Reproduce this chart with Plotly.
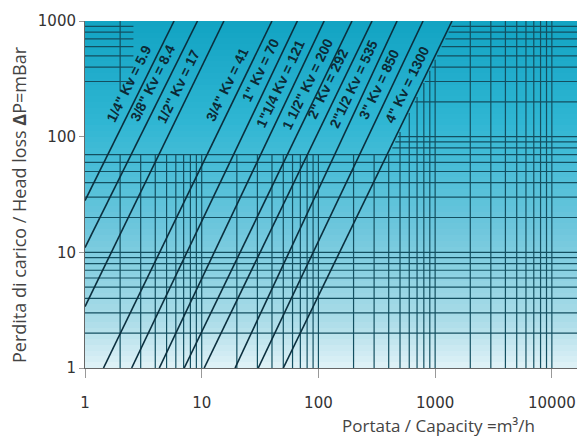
import numpy as np
import plotly.graph_objects as go

# ---------------- data ----------------
pipe_sizes = ['1/4"', '3/8"', '1/2"', '3/4"', '1"', '1"1/4', '1 1/2"', '2"', '2"1/2', '3"', '4"']
kv_values = [5.9, 8.4, 17, 41, 70, 121, 200, 292, 535, 850, 1300]
# line start points (lower-left) and end points (top edge), flow m3/h vs loss mbar
q_start = [1, 1, 1, 1.44, 2.51, 4.33, 7.08, 10.5, 19.3, 30.5, 50.0]
dp_start = [28, 11, 3.4, 1, 1, 1, 1, 1, 1, 1, 1]
q_end = [5.8, 9.2, 15.5, 40, 66, 112, 194, 288, 472, 788, 1396]
dp_end = [1000, 1000, 1000, 1000, 1000, 1000, 1000, 1000, 1000, 1000, 1000]
# loss value at which each label is centred
label_dp = [290, 290, 275, 285, 380, 285, 285, 285, 285, 285, 285]

x_ticks = [1, 10, 100, 1000, 10000]
x_ticktext = ['1', '10', '100', '1000', '10000']
y_ticks = [1, 10, 100, 1000]
y_ticktext = ['1', '10', '100', '1000']

X_MAX_LOG = 4.224
Y_MAX_LOG = 3.0

# ---------------- geometry (page has an 8px body margin) ----------------
OFF = 8
WIN_W, WIN_H = 585, 437
PL, PR, PT, PB = 85, 578, 21, 368          # plot area in window pixels
W, H = WIN_W - OFF, WIN_H - OFF
ML, MT = PL - OFF, PT - OFF
MR, MB = W - (PR - OFF), H - (PB - OFF)
pw = PR - PL
ph = PB - PT
px_per_dec_x = pw / X_MAX_LOG
px_per_dec_y = ph / Y_MAX_LOG


def paper_x(px):
    return (px - PL) / pw


def paper_y(py):
    return (PB - py) / ph


def x_on_line(i, dp):
    lx1, ly1 = np.log10(q_start[i]), np.log10(dp_start[i])
    lx2, ly2 = np.log10(q_end[i]), np.log10(dp_end[i])
    return 10 ** (lx1 + (np.log10(dp) - ly1) * (lx2 - lx1) / (ly2 - ly1))


def y_on_line(i, q):
    lx1, ly1 = np.log10(q_start[i]), np.log10(dp_start[i])
    lx2, ly2 = np.log10(q_end[i]), np.log10(dp_end[i])
    return 10 ** (ly1 + (np.log10(q) - lx1) * (ly2 - ly1) / (lx2 - lx1))


fig = go.Figure()

# ---------------- gradient background ----------------
y_edges = np.logspace(0, Y_MAX_LOG, 61)
frac = (np.log10(y_edges[:-1]) + np.log10(y_edges[1:])) / 2 / Y_MAX_LOG
fig.add_trace(go.Heatmap(
    x=[1, 10 ** X_MAX_LOG], y=y_edges, z=[[f] for f in frac],
    zmin=0, zmax=1, showscale=False, hoverinfo='skip',
    colorscale=[[0, '#e0f2f7'], [0.14, '#aadce8'], [0.41, '#6cc6dc'],
                [0.71, '#2fb6d3'], [1.0, '#12a3c3']],
))

# ---------------- grid lines (cleared band in upper area) ----------------
grid_vals_x = [m * 10 ** d for d in range(5) for m in range(1, 10) if 1 < m * 10 ** d < 10 ** X_MAX_LOG]
grid_vals_y = [m * 10 ** d for d in range(3) for m in range(1, 10) if 1 < m * 10 ** d < 1000]
BAND_Y = 70
CORNER_X, CORNER_Y = 2.6, 250
last = len(kv_values) - 1
gx, gy = [], []
for v in grid_vals_y:
    if v <= BAND_Y:
        segs = [(1, 10 ** X_MAX_LOG)]
    else:
        segs = [(x_on_line(last, v) * 1.04, 10 ** X_MAX_LOG)]
        if v >= CORNER_Y:
            segs.append((1, CORNER_X))
    for a, b in segs:
        gx += [a, b, None]
        gy += [v, v, None]
for u in grid_vals_x:
    top = max(BAND_Y, min(1000, y_on_line(last, u / 1.04)))
    gx += [u, u, None]
    gy += [1, top, None]
    if u <= CORNER_X:
        gx += [u, u, None]
        gy += [CORNER_Y, 1000, None]
fig.add_trace(go.Scatter(x=gx, y=gy, mode='lines', hoverinfo='skip',
                         line=dict(color='#134f60', width=1.2), showlegend=False))

# ---------------- Kv lines ----------------
for i in range(len(kv_values)):
    fig.add_trace(go.Scatter(x=[q_start[i], q_end[i]], y=[dp_start[i], dp_end[i]],
                             mode='lines', hoverinfo='skip', showlegend=False,
                             line=dict(color='#0b2f3e', width=1.6)))

# ---------------- line labels ----------------
for i in range(len(kv_values)):
    dpl = label_dp[i]
    ql = x_on_line(i, dpl)
    slope_px = ((np.log10(dp_end[i]) - np.log10(dp_start[i])) * px_per_dec_y) / \
               ((np.log10(q_end[i]) - np.log10(q_start[i])) * px_per_dec_x)
    ang = -np.degrees(np.arctan(slope_px))
    fig.add_annotation(x=np.log10(ql), y=np.log10(dpl), xref='x', yref='y',
                       text=f'<b>{pipe_sizes[i]} Kv = {kv_values[i]:g}</b>',
                       showarrow=False, textangle=ang, xshift=-14,
                       font=dict(family='Liberation Sans Narrow, Liberation Sans', size=14,
                                 color='#0c2a36'),
                       xanchor='center', yanchor='middle')

# ---------------- axis titles ----------------
fig.add_annotation(x=paper_x(438), y=paper_y(425), xref='paper', yref='paper',
                   text='Portata / Capacity =m³/h', showarrow=False, borderpad=0,
                   font=dict(family='Open Sans', size=17, color='#444444'),
                   xanchor='center', yanchor='middle')
fig.add_annotation(x=paper_x(19), y=paper_y(205), xref='paper', yref='paper',
                   text='Perdita di carico / Head loss <b>Δ</b>P=mBar', showarrow=False,
                   textangle=-90, borderpad=0,
                   font=dict(family='Open Sans', size=18, color='#444444'),
                   xanchor='center', yanchor='middle')

# right border
fig.add_shape(type='line', xref='paper', yref='paper', x0=1, x1=1, y0=0, y1=1,
              line=dict(color='#134f60', width=1))

fig.update_layout(
    width=W, height=H, margin=dict(l=ML, r=MR, t=MT, b=MB, autoexpand=False),
    paper_bgcolor='white', plot_bgcolor='white', showlegend=False,
    xaxis=dict(type='log', range=[0, X_MAX_LOG], showgrid=False, zeroline=False,
               automargin=False,
               tickvals=x_ticks, ticktext=x_ticktext, ticks='outside', ticklen=9,
               tickcolor='#999999', showline=True, linecolor='#666666', linewidth=1,
               ticklabelstandoff=12,
               tickfont=dict(family='DejaVu Sans', size=15, color='#333333')),
    yaxis=dict(type='log', range=[0, Y_MAX_LOG], showgrid=False, zeroline=False,
               automargin=False,
               tickvals=y_ticks, ticktext=y_ticktext, ticks='outside', ticklen=5,
               tickcolor='#999999', showline=True, linecolor='#666666', linewidth=1,
               tickfont=dict(family='DejaVu Sans', size=15, color='#333333')),
)

fig.write_html('out.html')
